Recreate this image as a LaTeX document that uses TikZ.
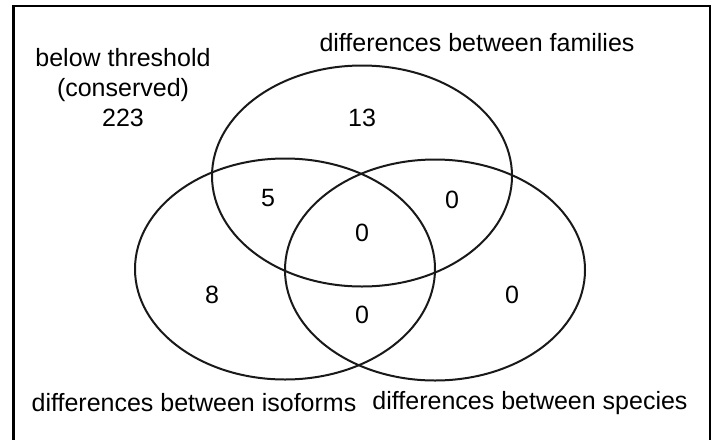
\documentclass[tikz,border=0pt]{standalone}
\usepackage{fontspec}
\setmainfont{Liberation Sans}
\usetikzlibrary{shapes.geometric}
\begin{document}
\begin{tikzpicture}[x=1pt,y=-1pt,
  setbox/.style={draw=black!90, ellipse, line width=2pt, minimum width=300pt, minimum height=221pt, inner sep=0pt},
  lbl/.style={font=\fontsize{25}{30}\selectfont, inner sep=0pt, align=center},
  frame/.style={draw=black, line width=2.6pt}]
\clip (0,0) rectangle (719,439);
\fill[white] (0,0) rectangle (719,439);
\draw[frame] (13.5,6) rectangle (710,460);
\node[setbox] (fam) at (362,176) {};
\node[setbox] (iso) at (285,269) {};
\node[setbox] (spe) at (435,270) {};
\node[lbl] (below) at (123,88) {below threshold\\(conserved)\\223};
\node[lbl] (famlbl) at (477,43) {differences between families};
\node[lbl] (isolbl) at (194,403) {differences between isoforms};
\node[lbl] (spelbl) at (530,403) {differences between species};
\node[lbl] (n13) at (362,118) {13};
\node[lbl] (n5) at (268,198) {5};
\node[lbl] (nfs) at (452,200) {0};
\node[lbl] (nall) at (362,233) {0};
\node[lbl] (n8) at (212,295) {8};
\node[lbl] (nis) at (362,315) {0};
\node[lbl] (ns) at (512,295) {0};
\end{tikzpicture}
\end{document}
